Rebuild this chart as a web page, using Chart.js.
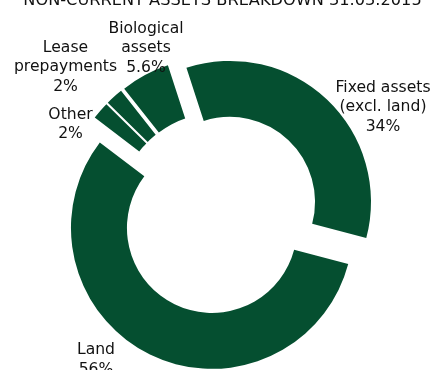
<!DOCTYPE html>
<html>
<head>
<meta charset="utf-8">
<style>
  html, body { margin: 0; padding: 0; background: #ffffff; overflow: hidden; }
  #wrap { position: relative; width: 433px; height: 370px; }
</style>
<script src="https://cdn.jsdelivr.net/npm/chart.js@4.4.1/dist/chart.umd.min.js"></script>
</head>
<body>
<div id="wrap"><canvas id="chart" width="433" height="370"></canvas></div>
<script>
// Non-current assets breakdown at 31.03.2015, share of total in percent
const titleText = 'NON-CURRENT ASSETS BREAKDOWN 31.03.2015';
const categories = [
  ['Fixed assets', '(excl. land)'],
  ['Land'],
  ['Other'],
  ['Lease', 'prepayments'],
  ['Biological', 'assets']
];
const shares = [34, 56, 2, 2, 5.6];

// Label block anchors (centre x, first baseline) relative to the ring centre
const labelAnchors = [
  [164, -122],
  [-123, 140.5],
  [-148.5, -95],
  [-153.5, -162],
  [-73, -181]
];

const ringColor = '#054f30';
const textFont = '"DejaVu Sans", Verdana, sans-serif';

// Pulls every slice outward along its own bisector
const explodeSlices = {
  id: 'explodeSlices',
  beforeDatasetDraw(chart, args, opts) {
    const ctx = chart.ctx;
    args.meta.data.forEach(arc => {
      const mid = (arc.startAngle + arc.endAngle) / 2;
      ctx.save();
      ctx.translate(Math.cos(mid) * opts.distance, Math.sin(mid) * opts.distance);
      arc.draw(ctx);
      ctx.restore();
    });
    return false;
  }
};

// Category name plus percentage next to each slice, and the heading
const sliceLabels = {
  id: 'sliceLabels',
  afterDatasetsDraw(chart) {
    const ctx = chart.ctx;
    const meta = chart.getDatasetMeta(0);
    const cx = meta.data[0].x;
    const cy = meta.data[0].y;
    ctx.save();
    ctx.fillStyle = '#111111';
    ctx.textAlign = 'center';
    ctx.textBaseline = 'alphabetic';

    ctx.font = '16.2px ' + textFont;
    ctx.fillText(titleText, cx + 3.5, 4.5);

    ctx.font = '15.6px ' + textFont;
    categories.forEach((name, i) => {
      const lines = name.concat(shares[i] + '%');
      const [dx, dy] = labelAnchors[i];
      lines.forEach((line, k) => {
        ctx.fillText(line, cx + dx, cy + dy + k * 19.5);
      });
    });
    ctx.restore();
  }
};

new Chart(document.getElementById('chart'), {
  type: 'doughnut',
  data: {
    labels: categories.map(c => c.join(' ')),
    datasets: [{
      data: shares,
      backgroundColor: ringColor,
      borderWidth: 0
    }]
  },
  options: {
    responsive: false,
    devicePixelRatio: 1,
    animation: false,
    rotation: -18,
    cutout: '60.3%',
    radius: 141,
    layout: { padding: { left: 5, right: 0, top: 57, bottom: 0 } },
    plugins: {
      legend: { display: false },
      title: { display: false },
      tooltip: { enabled: false },
      explodeSlices: { distance: 16 }
    }
  },
  plugins: [explodeSlices, sliceLabels]
});
</script>
</body>
</html>
